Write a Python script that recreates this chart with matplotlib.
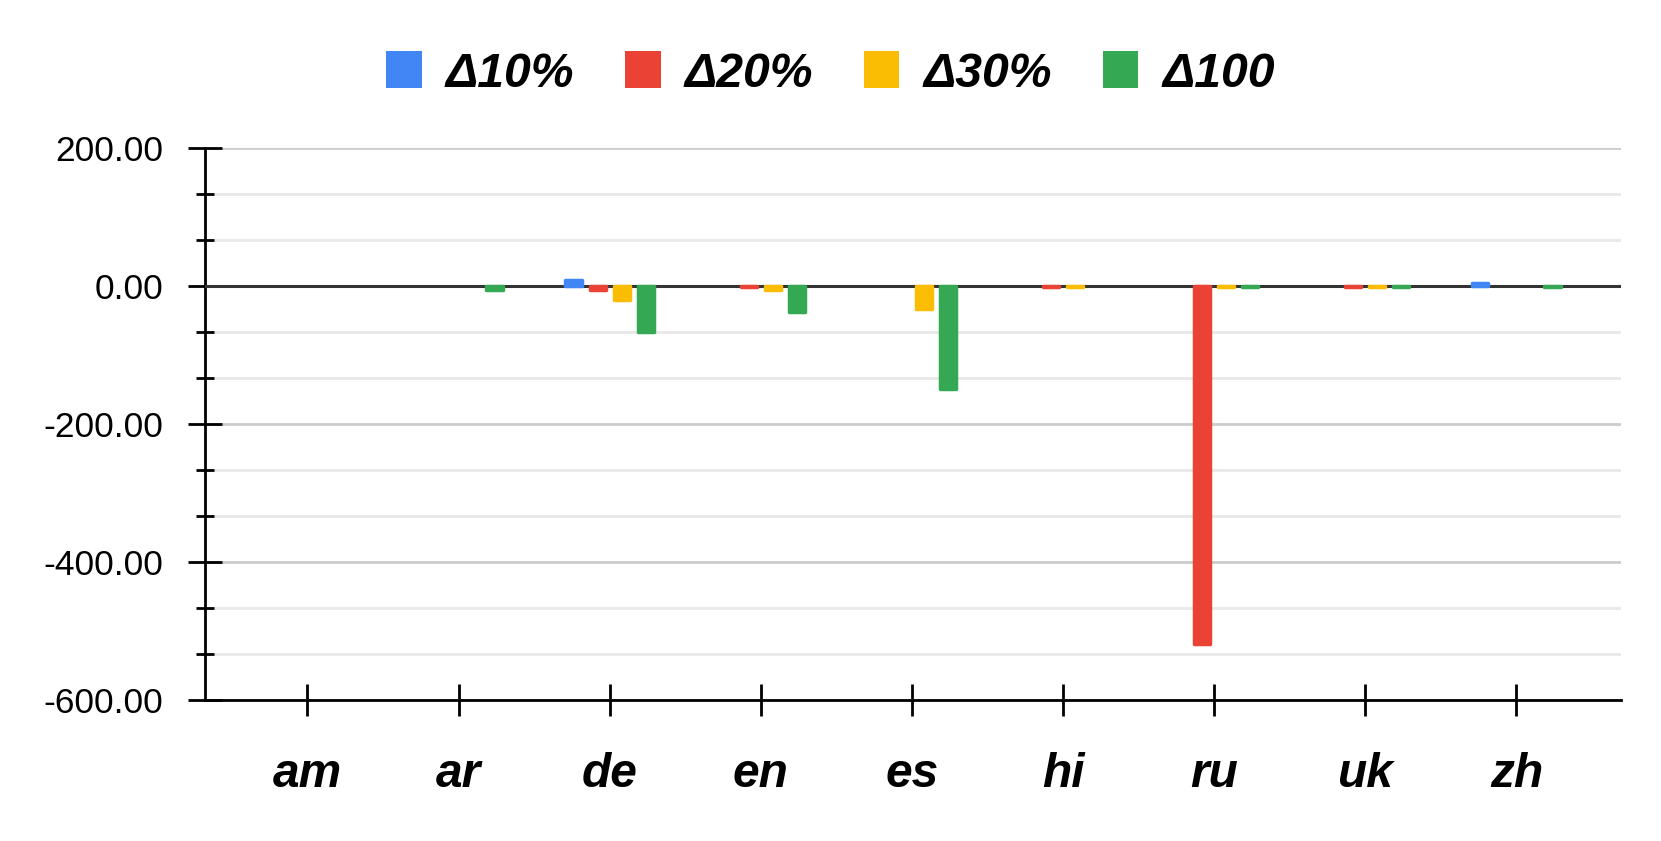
import numpy as np
import matplotlib.pyplot as plt
from matplotlib.ticker import MultipleLocator, AutoMinorLocator, FormatStrFormatter

langs = ["am", "ar", "de", "en", "es", "hi", "ru", "uk", "zh"]
series = ["Δ10%", "Δ20%", "Δ30%", "Δ100"]
d10 = [0, 0, 9, 0, 0, 0, 0, 0, 5]
d20 = [0, 0, -6, -1, 0, -1, -519, -1, 0]
d30 = [0, 0, -20, -6, -33, -1, -1, -1, 0]
d100 = [0, -6, -67, -37, -150, 0, -1, -1, -1]
colors = ["#4285f4", "#ea4335", "#fbbc04", "#34a853"]

plt.rcParams['font.family'] = ['Liberation Sans', 'DejaVu Sans']

fig = plt.figure(figsize=(16.61, 8.41), dpi=100)
ax = fig.add_axes([0.1237, 0.1677, 0.852, 0.6563])

x = np.arange(len(langs))
step = 0.159
w = 0.108
for i, (vals, c, name) in enumerate(zip([d10, d20, d30, d100], colors, series)):
    # no outline on zero bars, otherwise they show up as stubs
    lws = [2.5 if v != 0 else 0 for v in vals]
    ax.bar(x + (i - 1.5) * step, vals, width=w, color=c, label=name,
           edgecolor=c, linewidth=lws, joinstyle='round', zorder=5)

ax.axhline(0, color="#333333", lw=2.2, zorder=4)
ax.set_ylim(-600, 200)
ax.set_xlim(-0.675, 8.69)
ax.yaxis.set_major_locator(MultipleLocator(200))
ax.yaxis.set_minor_locator(AutoMinorLocator(3))
ax.yaxis.set_major_formatter(FormatStrFormatter('%.2f'))
ax.grid(axis='y', which='major', color="#cccccc", lw=2, zorder=0)
ax.grid(axis='y', which='minor', color="#e8e8e8", lw=2, zorder=0)
ax.set_axisbelow(True)

ax.set_xticks(x)
ax.set_xticklabels(langs, fontsize=34.5, fontweight='bold', fontstyle='italic')
ax.tick_params(axis='x', direction='inout', length=23, width=2, pad=26)
ax.tick_params(axis='y', which='major', direction='inout', length=25, width=2,
               pad=18, labelsize=25.5)
ax.tick_params(axis='y', which='minor', direction='inout', length=12.5, width=2)

for s in ['top', 'right']:
    ax.spines[s].set_visible(False)
for s in ['left', 'bottom']:
    ax.spines[s].set_linewidth(2)
    ax.spines[s].set_color('black')

leg = fig.legend(loc='center', bbox_to_anchor=(0.5, 0.912), ncol=4, frameon=False,
                 prop={'size': 34.7, 'weight': 'bold', 'style': 'italic'},
                 handlelength=0.74, handleheight=0.8, handletextpad=0.5,
                 columnspacing=1.05)

fig.savefig("out.png", dpi=100)
